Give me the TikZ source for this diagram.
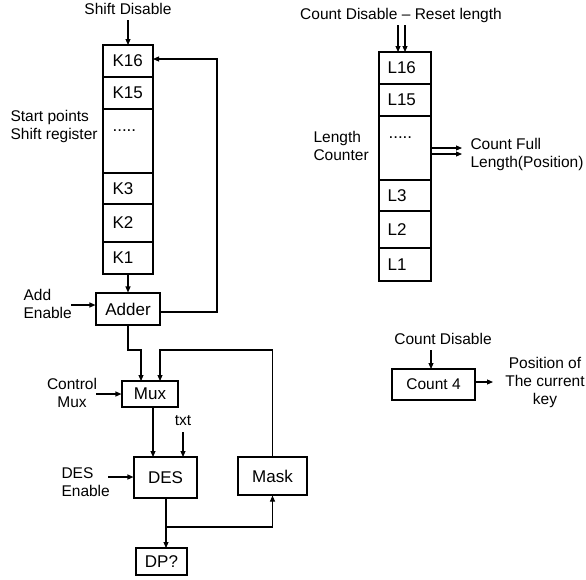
\documentclass[tikz,border=0pt]{standalone}
\usepackage{fontspec}
\setmainfont{Liberation Sans}
\usetikzlibrary{arrows.meta}
\begin{document}
\begin{tikzpicture}[x=1pt,y=-1pt,
  line width=1.1pt,
  arr/.style={-{Triangle[length=6pt,width=5pt]}},
  lbl/.style={font=\fontsize{15.5}{18}\selectfont, inner sep=0pt},
  boxtxt/.style={font=\fontsize{17}{20}\selectfont, inner sep=0pt},
  reg/.style={draw, line width=1.1pt}]
\useasboundingbox (0,0) rectangle (586,579);
% ---- Left shift register ----
\foreach \n/\a/\b/\t in {k16/45/77/K16, k15/77/109/K15, k3/173/204/K3, k2/204/242/K2, k1/242/274/K1}{
  \draw[reg] (103,\a) rectangle (153,\b);
  \node[boxtxt, anchor=west] (\n) at (112,{(\a+\b)/2}) {\t};
}
\draw[reg] (103,109) rectangle (153,173);
\node[boxtxt, anchor=base west] (kd) at (112,131) {.....};
\coordinate (kT) at (128,45);
\coordinate (kB) at (128,274);
\coordinate (k16R) at (153,59);
\node[lbl] (shd) at (128,9) {Shift Disable};
\draw[arr] (128,20) -- (kT);
\node[lbl, align=left, anchor=west] (sp) at (10,126.5) {Start points\\Shift register};
% Adder
\node[draw, boxtxt, minimum width=64pt, minimum height=32pt, inner sep=0pt] (adder) at (128,309) {Adder};
\draw[arr] (kB) -- (adder.north);
\node[lbl, align=left, anchor=west] (addl) at (23,304) {Add\\Enable};
\draw[arr] (71,305) -- (adder.west |- 0,305);
\draw[arr] (adder.east |- 0,312) -- (217,312) -- (217,59) -- (k16R);
% Mux
\node[draw, boxtxt, minimum width=56pt, minimum height=26pt, inner sep=0pt] (mux) at (150,394) {Mux};
\draw[arr] (adder.south) -- (128,350) -- (141,350) -- (141,381);
\node[lbl, align=center] (cm) at (72,392.5) {Control\\Mux};
\draw[arr] (96,394) -- (mux.west);
% DES
\node[draw, boxtxt, minimum width=63pt, minimum height=41pt, inner sep=0pt] (des) at (165.5,477.5) {DES};
\draw[arr] (153,407) -- (153,457);
\node[lbl] (txt) at (183,421) {txt};
\draw[arr] (183,432) -- (183,457);
\node[lbl, align=left, anchor=west] (desl) at (61,482) {DES\\Enable};
\draw[arr] (108,477) -- (des.west |- 0,477);
% Mask
\node[draw, boxtxt, minimum width=69pt, minimum height=38pt, inner sep=0pt] (mask) at (272.5,476) {Mask};
\draw[arr] (mask.north) -- (272.5,350) -- (160,350) -- (160,381);
% DP?
\node[draw, boxtxt, minimum width=51pt, minimum height=27pt, inner sep=0pt] (dp) at (161.5,561.5) {DP?};
\coordinate (j) at (166,527);
\draw[arr] (166,498) -- (j) -- (166,548);
\draw[arr] (j) -- (272.5,527) -- (mask.south);
% ---- Right length counter ----
\foreach \n/\a/\b/\t in {l16/52/84/L16, l15/84/116/L15, l3/180/211/L3, l2/211/248/L2, l1/248/281/L1}{
  \draw[reg] (379,\a) rectangle (431,\b);
  \node[boxtxt, anchor=west] (\n) at (387,{(\a+\b)/2}) {\t};
}
\draw[reg] (379,116) rectangle (431,180);
\node[boxtxt, anchor=base west] (ld) at (388,138) {.....};
\node[lbl] (cdr) at (401,15) {Count Disable -- Reset length};
\draw[arr] (398,25) -- (398,52);
\draw[arr] (405,25) -- (405,52);
\node[lbl, align=left, anchor=west] (lc) at (313,145.5) {Length\\Counter};
\draw[arr] (431,148) -- (462,148);
\draw[arr] (431,154) -- (462,154);
\node[lbl, align=left, anchor=west] (cfl) at (470,154) {Count Full\\Length(Position)};
% ---- Count 4 ----
\node[draw, lbl, minimum width=83pt, minimum height=31pt, inner sep=0pt] (c4) at (433.5,384.5) {Count 4};
\node[lbl] (cd) at (443,339) {Count Disable};
\draw[arr] (431,350) -- (431,369);
\draw[arr] (475,382) -- (493,382);
\node[lbl, align=center] (pos) at (545,382.5) {Position of\\The current\\key};
\end{tikzpicture}
\end{document}
